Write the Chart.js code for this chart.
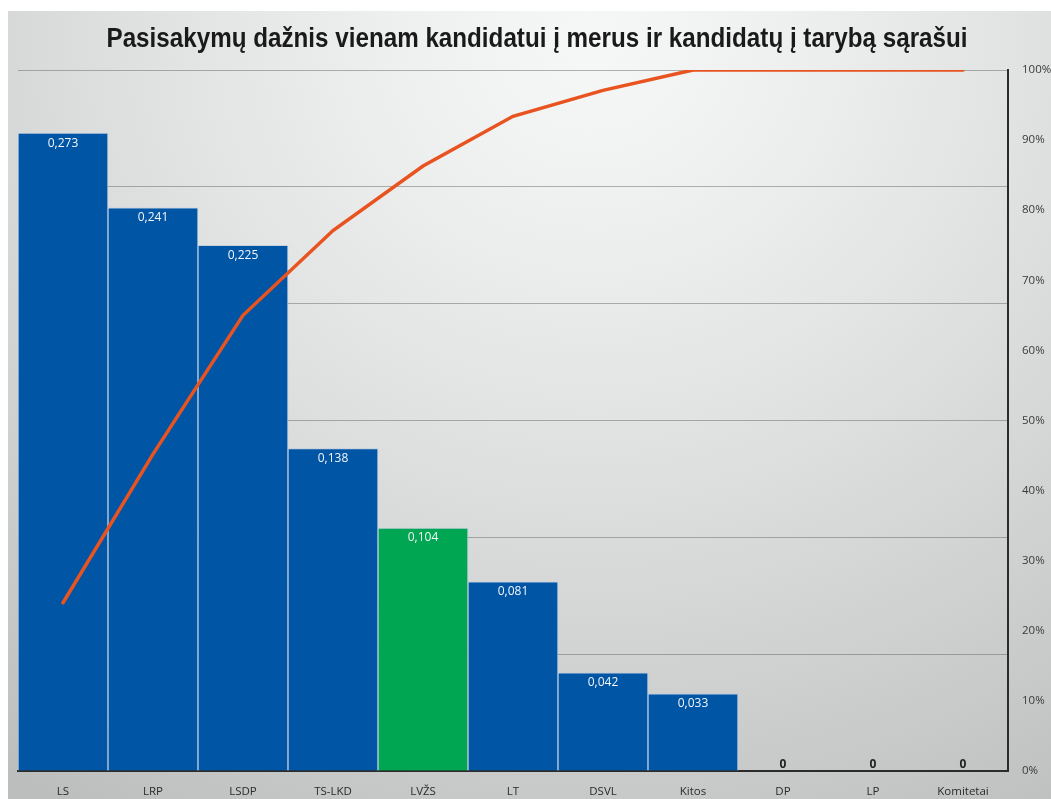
<!DOCTYPE html>
<html lang="lt">
<head>
<meta charset="utf-8">
<title>Pasisakymų dažnis</title>
<style>
html, body { margin: 0; padding: 0; background: #fff; }
#wrap {
    position: absolute; left: 8px; top: 11px; width: 1043px; height: 788px;
    background: radial-gradient(ellipse 95% 115% at 56% 4%, #f6f7f7 0%, #eeefef 20%, #e0e1e1 45%, #d0d1d1 70%, #c3c4c4 90%, #bcbdbd 100%);
}
</style>
</head>
<body>
<div id="wrap"><canvas id="paretoChart" width="1043" height="788"></canvas></div>
<script src="https://cdn.jsdelivr.net/npm/chart.js@4.4.1/dist/chart.umd.min.js"></script>
<script>
const chartTitle = 'Pasisakymų dažnis vienam kandidatui į merus ir kandidatų į tarybą sąrašui';
const parties = ['LS', 'LRP', 'LSDP', 'TS-LKD', 'LVŽS', 'LT', 'DSVL', 'Kitos', 'DP', 'LP', 'Komitetai'];
const frequency = [0.273, 0.241, 0.225, 0.138, 0.104, 0.081, 0.042, 0.033, 0, 0, 0];
const cumulativePct = [24, 45.2, 65, 77.1, 86.3, 93.4, 97.1, 100, 100, 100, 100];
const barColors = ['#0055a5', '#0055a5', '#0055a5', '#0055a5', '#00a651', '#0055a5', '#0055a5', '#0055a5', '#0055a5', '#0055a5', '#0055a5'];

// title + value labels drawn on top of the chart
const labelPlugin = {
    id: 'labels',
    afterDatasetsDraw(chart) {
        const ctx = chart.ctx;
        ctx.save();
        ctx.font = "bold 27px 'Liberation Sans', sans-serif";
        ctx.fillStyle = '#1a1a1a';
        ctx.textAlign = 'center';
        ctx.textBaseline = 'middle';
        // squeeze the title a bit, the original uses a condensed face
        const w = ctx.measureText(chartTitle).width;
        const sx = 861 / w;
        ctx.translate(529, 29);
        ctx.scale(sx, 1);
        ctx.fillText(chartTitle, 0, 0);
        ctx.setTransform(1, 0, 0, 1, 0, 0);

        const meta = chart.getDatasetMeta(1);
        ctx.font = "12px 'Open Sans', sans-serif";
        meta.data.forEach((bar, i) => {
            const v = frequency[i];
            if (v > 0) {
                ctx.fillStyle = '#f4f6fa';
                ctx.fillText(v.toFixed(3).replace('.', ','), bar.x, bar.y + 10);
            } else {
                ctx.font = "bold 12px 'Open Sans', sans-serif";
                ctx.fillStyle = '#222';
                ctx.fillText('0', bar.x, bar.y - 6);
            }
        });
        ctx.restore();
    }
};

const ctx = document.getElementById('paretoChart').getContext('2d');
const paretoChart = new Chart(ctx, {
    type: 'bar',
    data: {
        labels: parties,
        datasets: [{
            type: 'line',
            label: 'Kaupiamasis %',
            data: cumulativePct,
            borderColor: '#e8531f',
            borderWidth: 3.5,
            borderCapStyle: 'round',
            pointRadius: 0,
            tension: 0,
            yAxisID: 'y1',
            order: 0
        }, {
            type: 'bar',
            label: 'Dažnis',
            data: frequency,
            backgroundColor: barColors,
            borderColor: 'rgba(190,205,225,0.9)',
            borderWidth: 1,
            borderSkipped: 'bottom',
            barPercentage: 1,
            categoryPercentage: 1,
            yAxisID: 'y',
            order: 1
        }]
    },
    plugins: [labelPlugin],
    options: {
        responsive: false,
        animation: false,
        layout: { padding: { left: 10, top: 59, right: 0, bottom: 0 } },
        plugins: {
            legend: { display: false },
            title: { display: false },
            tooltip: { enabled: false }
        },
        scales: {
            x: {
                grid: { display: false },
                border: { color: '#2b2b2b', width: 2 },
                ticks: { color: '#2b2b2b', font: { size: 11.5, family: "'Open Sans', sans-serif" }, padding: 6 },
                afterFit: (s) => { s.height = 28; }
            },
            y: {
                position: 'left',
                min: 0,
                max: 0.3,
                ticks: { display: false, stepSize: 0.05 },
                grid: { color: 'rgba(90,90,90,0.45)', lineWidth: 1, drawTicks: false },
                border: { display: false },
                afterFit: (s) => { s.width = 0; }
            },
            y1: {
                position: 'right',
                min: 0,
                max: 100,
                ticks: {
                    stepSize: 10,
                    color: '#3a3a3a',
                    font: { size: 11.5, family: "'Open Sans', sans-serif" },
                    padding: 6,
                    callback: (v) => v + '%'
                },
                grid: { display: false },
                border: { color: '#2b2b2b', width: 2 },
                afterFit: (s) => { s.width = 43; }
            }
        }
    }
});
</script>
</body>
</html>
